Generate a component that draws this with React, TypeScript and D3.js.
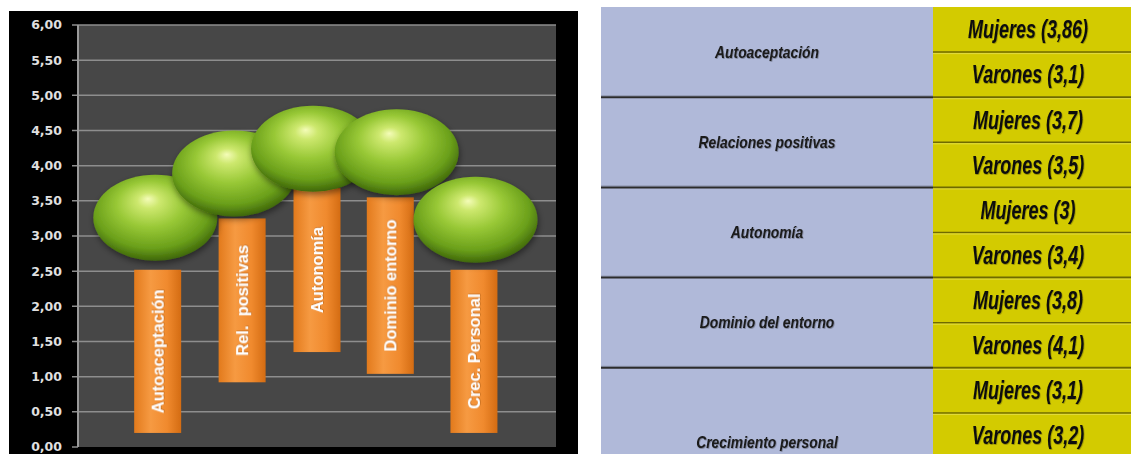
import React from 'react';
import * as d3 from 'd3';

// left chart: labels on orange bars, bubble positions, bar extents
const chartLabels = ['Autoaceptación', 'Rel.  positivas', 'Autonomía', 'Dominio entorno', 'Crec. Personal'];
const bubbleX = [0.97, 1.96, 2.95, 4.0, 4.99];
const bubbleY = [3.26, 3.89, 4.24, 4.19, 3.23];
const barX = [1.0, 2.06, 3.0, 3.92, 4.97];
const barTop = [2.52, 3.25, 3.68, 3.55, 2.52];
const barBottom = [0.2, 0.92, 1.35, 1.04, 0.2];

// right table
const tableCategories = ['Autoaceptación', 'Relaciones positivas', 'Autonomía', 'Dominio del entorno', 'Crecimiento personal'];
const mujeres = [3.86, 3.7, 3, 3.8, 3.1];
const varones = [3.1, 3.5, 3.4, 4.1, 3.2];
const groupRows = [2, 2, 2, 2, 3];

const W = 1131;
const H = 454;

const esNum = (v: number) => String(v).replace('.', ',');
const tickFmt = d3.formatLocale({ decimal: ',', thousands: '.', grouping: [3], currency: ['', '€'] }).format('.2f');

function BubbleChart() {
  const x = d3.scaleLinear().domain([0, 6]).range([78, 556]);
  const y = d3.scaleLinear().domain([0, 6]).range([447, 25]);
  const ticks = y.ticks(12);
  const barW = 47;
  const rx = 62;
  const ry = 43;

  return (
    <g>
      <defs>
        <radialGradient id="bub" cx="48%" cy="42%" r="60%" fx="44%" fy="28%">
          <stop offset="0%" stopColor="#f4fcb8" />
          <stop offset="15%" stopColor="#cde86e" />
          <stop offset="45%" stopColor="#98c836" />
          <stop offset="78%" stopColor="#6a9f1a" />
          <stop offset="100%" stopColor="#395f08" />
        </radialGradient>
        <linearGradient id="barG" x1="0" x2="1" y1="0" y2="0">
          <stop offset="0%" stopColor="#e27a1c" />
          <stop offset="35%" stopColor="#f69a42" />
          <stop offset="70%" stopColor="#f08a2e" />
          <stop offset="100%" stopColor="#d46c12" />
        </linearGradient>
        <filter id="bshadow" x="-20%" y="-20%" width="140%" height="150%">
          <feDropShadow dx="1" dy="3" stdDeviation="3" floodColor="#000" floodOpacity="0.45" />
        </filter>
        <filter id="tshadow" x="-20%" y="-20%" width="140%" height="140%">
          <feDropShadow dx="0.5" dy="0.5" stdDeviation="0.6" floodColor="#7a3a00" floodOpacity="0.6" />
        </filter>
      </defs>
      <rect x={9} y={11} width={569} height={H - 11} fill="#000" />
      <rect x={x(0)} y={y(6)} width={x(6) - x(0)} height={y(0) - y(6)} fill="#474747" />
      {ticks.map((t) => (
        <g key={t}>
          {t > 0 && (
            <line x1={72} x2={x(6)} y1={y(t)} y2={y(t)} stroke="#8e8e8e" strokeWidth={1.5} />
          )}
          {t === 0 && <line x1={72} x2={x(0)} y1={y(t)} y2={y(t)} stroke="#8e8e8e" strokeWidth={1.5} />}
          <text
            x={62}
            y={y(t)}
            dy="0.35em"
            textAnchor="end"
            fill="#e0e0e0"
            fontFamily="DejaVu Sans, sans-serif"
            fontWeight="bold"
            fontSize={12.5}
          >
            {tickFmt(t)}
          </text>
        </g>
      ))}
      <line x1={x(0)} x2={x(0)} y1={y(6)} y2={y(0)} stroke="#9a9a9a" strokeWidth={2} />
      {chartLabels.map((lab, i) => {
        const cx = x(barX[i]);
        const top = y(barTop[i]);
        const bot = y(barBottom[i]);
        const mid = (top + bot) / 2;
        return (
          <g key={lab}>
            <rect x={cx - barW / 2} y={top} width={barW} height={bot - top} fill="url(#barG)" />
            <text
              transform={`translate(${cx},${mid}) rotate(-90)`}
              textAnchor="middle"
              dy="0.36em"
              fill="#fff"
              fontFamily="Liberation Sans, Arial, sans-serif"
              fontWeight="bold"
              fontSize={16.5}
              filter="url(#tshadow)"
              style={{ whiteSpace: 'pre' }}
            >
              {lab}
            </text>
          </g>
        );
      })}
      {bubbleX.map((bx, i) => (
        <ellipse
          key={i}
          cx={x(bx)}
          cy={y(bubbleY[i])}
          rx={rx}
          ry={ry}
          fill="url(#bub)"
          filter="url(#bshadow)"
        />
      ))}
    </g>
  );
}

function Table() {
  const totalRows = d3.sum(groupRows);
  const row = d3.scaleLinear().domain([0, 10]).range([7, 458]);
  const leftX0 = 601;
  const splitX = 933;
  const rightX1 = W;
  let start = 0;
  const groups = tableCategories.map((c, i) => {
    const g = { cat: c, start, rows: groupRows[i], m: mujeres[i], v: varones[i] };
    start += groupRows[i];
    return g;
  });

  return (
    <g>
      <defs>
        <filter id="txtBlur" x="-10%" y="-20%" width="120%" height="140%">
          <feDropShadow dx="0.8" dy="0.8" stdDeviation="0.7" floodColor="#000" floodOpacity="0.35" />
        </filter>
      </defs>
      <rect x={leftX0} y={row(0)} width={splitX - leftX0} height={row(totalRows) - row(0)} fill="#b0b9d9" />
      <rect x={splitX} y={row(0)} width={rightX1 - splitX} height={row(totalRows) - row(0)} fill="#d3cb00" />
      {d3.range(1, totalRows).map((r) => {
        const isGroup = groups.some((g) => g.start === r);
        return (
          <g key={r}>
            {isGroup && (
              <>
                <line x1={leftX0} x2={splitX} y1={row(r) - 1.5} y2={row(r) - 1.5} stroke="#9098b0" strokeWidth={1} />
                <line x1={leftX0} x2={splitX} y1={row(r)} y2={row(r)} stroke="#2c2c2c" strokeWidth={2} />
              </>
            )}
            <line x1={splitX} x2={rightX1} y1={row(r)} y2={row(r)} stroke="#6f6a00" strokeWidth={isGroup ? 2 : 1.5} />
            <line x1={splitX} x2={rightX1} y1={row(r) + 1.5} y2={row(r) + 1.5} stroke="#e2dc40" strokeWidth={1} />
          </g>
        );
      })}
      {groups.map((g, gi) => {
        const labelY = (row(g.start) + row(g.start + g.rows)) / 2 + (gi === groups.length - 1 ? 7 : 0);
        return (
          <g key={g.cat}>
            <text
              transform={`translate(767,${labelY}) scale(0.84,1)`}
              dy="0.35em"
              textAnchor="middle"
              fill="#1a1a1a"
              fontFamily="Liberation Sans, Arial, sans-serif"
              fontStyle="italic"
              fontWeight="bold"
              fontSize={16.5}
              filter="url(#txtBlur)"
            >
              {g.cat}
            </text>
            {[`Mujeres (${esNum(g.m)})`, `Varones (${esNum(g.v)})`].map((t, k) => (
              <text
                key={t}
                transform={`translate(1028,${(row(g.start + k) + row(g.start + k + 1)) / 2}) scale(0.72,1)`}
                dy="0.35em"
                textAnchor="middle"
                fill="#111"
                fontFamily="Liberation Sans, Arial, sans-serif"
                fontStyle="italic"
                fontWeight="bold"
                fontSize={25}
                filter="url(#txtBlur)"
              >
                {t}
              </text>
            ))}
          </g>
        );
      })}
    </g>
  );
}

export default function App() {
  return (
    <svg
      width={W}
      height={H}
      style={{ position: 'absolute', left: 0, top: 0, background: '#fff' }}
    >
      <BubbleChart />
      <Table />
    </svg>
  );
}
